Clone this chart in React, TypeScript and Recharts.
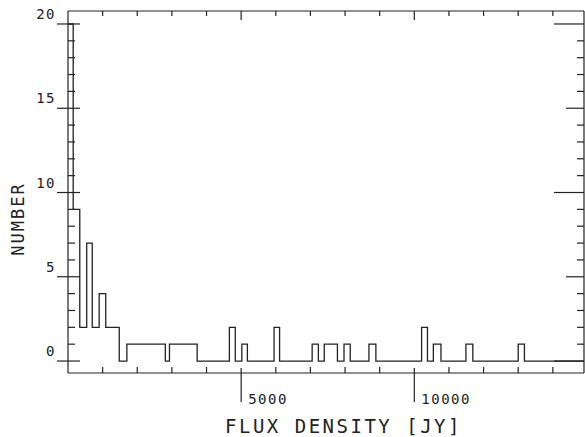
import { LineChart, Line, XAxis, YAxis, Label } from "recharts"

const INK = "#222"
const FONT = "'DejaVu Sans Mono', 'Liberation Mono', monospace"

const X_MAX = 14900
const Y_MIN = -0.71
const Y_MAX = 20.77

// left edge of each histogram step (Jy) and the count over it
const STEP_START = [
  0, 150, 340, 540, 700, 900, 1090, 1480, 1700, 2810, 2930, 3730, 4660, 4830, 5020, 5180,
  5950, 6110, 7050, 7230, 7400, 7780, 7970, 8150, 8690, 8890, 10210, 10380, 10550, 10770,
  11490, 11690, 13000, 13180,
]
const STEP_COUNT = [
  20, 9, 2, 7, 2, 4, 2, 0, 1, 0, 1, 0, 2, 0, 1, 0,
  2, 0, 1, 0, 1, 0, 1, 0, 1, 0, 2, 0, 1, 0,
  1, 0, 1, 0,
]

const X_TICKS = [1000, 2000, 3000, 4000, 5000, 6000, 7000, 8000, 9000, 10000, 11000, 12000, 13000, 14000]
const X_MAJOR = [5000, 10000]
const Y_TICKS = [0, 1, 2, 3, 4, 5, 6, 7, 8, 9, 10, 11, 12, 13, 14, 15, 16, 17, 18, 19, 20]
const Y_MAJOR = [0, 5, 10, 15, 20]

const rows = STEP_START.map((flux, i) => ({ flux, count: STEP_COUNT[i] })).concat([
  { flux: X_MAX, count: 0 },
])

const tickText = { fontFamily: FONT, fontSize: 14, letterSpacing: 1.5, fill: INK }

function BottomTick({ x, y, payload }: any) {
  const major = X_MAJOR.includes(payload.value)
  return (
    <g>
      <line x1={x} x2={x} y1={y - (major ? 5 : 6)} y2={major ? y + 29 : y} stroke={INK} strokeWidth={1.2} />
      {major ? (
        <text x={x + 7} y={y + 31} textAnchor="start" {...tickText}>
          {payload.value}
        </text>
      ) : null}
    </g>
  )
}

function TopTick({ x, y, payload }: any) {
  const major = X_MAJOR.includes(payload.value)
  return <line x1={x} x2={x} y1={y} y2={y + (major ? 9 : 5)} stroke={INK} strokeWidth={1.2} />
}

function LeftTick({ x, y, payload }: any) {
  const major = Y_MAJOR.includes(payload.value)
  return (
    <g>
      <line x1={major ? x - 11 : x} x2={x + (major ? 12 : 7)} y1={y} y2={y} stroke={INK} strokeWidth={1.2} />
      {major ? (
        <text x={x - 12} y={y - 5} textAnchor="end" {...tickText}>
          {payload.value}
        </text>
      ) : null}
    </g>
  )
}

function RightTick({ x, y, payload }: any) {
  const v = payload.value
  const len = v % 10 === 0 ? 30 : v % 5 === 0 ? 18 : 7
  return <line x1={x - len} x2={x} y1={y} y2={y} stroke={INK} strokeWidth={1.2} />
}

const frame = { stroke: INK, strokeWidth: 1.2 }

export default function App() {
  return (
    <div style={{ position: "absolute", left: 0, top: 0, width: 585, height: 437, background: "#fff" }}>
      <LineChart width={585} height={437} data={rows} margin={{ top: 10, right: 0, bottom: 0, left: 0 }}>
        <XAxis
          xAxisId="b"
          type="number"
          dataKey="flux"
          orientation="bottom"
          domain={[0, X_MAX]}
          ticks={X_TICKS}
          interval={0}
          allowDataOverflow
          height={64}
          tickSize={0}
          tickMargin={0}
          tickLine={false}
          axisLine={frame}
          tick={<BottomTick />}
        >
          <Label
            content={() => (
              <text x={225} y={433} fontFamily={FONT} fontSize={19} letterSpacing={2.5} fill={INK}>
                FLUX DENSITY [JY]
              </text>
            )}
          />
        </XAxis>
        <XAxis
          xAxisId="t"
          type="number"
          dataKey="flux"
          orientation="top"
          domain={[0, X_MAX]}
          ticks={X_TICKS}
          interval={0}
          allowDataOverflow
          height={1}
          tickSize={0}
          tickMargin={0}
          tickLine={false}
          axisLine={frame}
          tick={<TopTick />}
        />
        <YAxis
          yAxisId="l"
          type="number"
          orientation="left"
          domain={[Y_MIN, Y_MAX]}
          ticks={Y_TICKS}
          interval={0}
          allowDataOverflow
          width={68}
          tickSize={0}
          tickMargin={0}
          tickLine={false}
          axisLine={frame}
          tick={<LeftTick />}
        >
          <Label
            content={() => (
              <text
                x={18}
                y={219}
                transform="rotate(-90 18 219)"
                textAnchor="middle"
                dominantBaseline="central"
                fontFamily={FONT}
                fontSize={17}
                letterSpacing={2}
                fill={INK}
              >
                NUMBER
              </text>
            )}
          />
        </YAxis>
        <YAxis
          yAxisId="r"
          type="number"
          orientation="right"
          domain={[Y_MIN, Y_MAX]}
          ticks={Y_TICKS}
          interval={0}
          allowDataOverflow
          width={1}
          tickSize={0}
          tickMargin={0}
          tickLine={false}
          axisLine={frame}
          tick={<RightTick />}
        />
        <Line
          xAxisId="t"
          yAxisId="r"
          dataKey="count"
          stroke="none"
          dot={false}
          activeDot={false}
          isAnimationActive={false}
        />
        <Line
          xAxisId="b"
          yAxisId="l"
          type="stepAfter"
          dataKey="count"
          stroke={INK}
          strokeWidth={1.3}
          dot={false}
          activeDot={false}
          isAnimationActive={false}
        />
      </LineChart>
    </div>
  )
}
